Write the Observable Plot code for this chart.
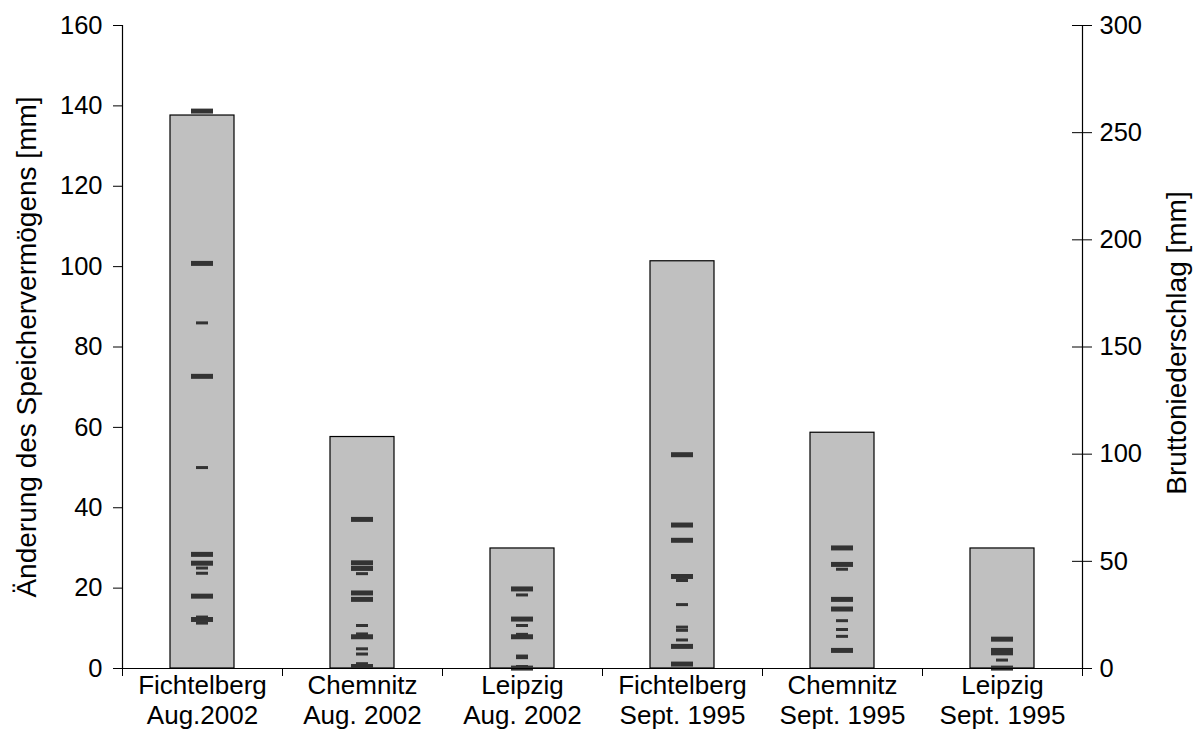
<!DOCTYPE html>
<html>
<head>
<meta charset="utf-8">
<script src="https://cdn.jsdelivr.net/npm/d3@7"></script>
<script src="https://cdn.jsdelivr.net/npm/@observablehq/plot@0.6"></script>
<style>
  body { margin: 0; background: #fff; }
</style>
</head>
<body>
<div id="chart"></div>
<script>
// ---- data ----
const categories = [
  "Fichtelberg\nAug.2002",
  "Chemnitz\nAug. 2002",
  "Leipzig\nAug. 2002",
  "Fichtelberg\nSept. 1995",
  "Chemnitz\nSept. 1995",
  "Leipzig\nSept. 1995"
];
// Bruttoniederschlag [mm] (right axis)
const precipitation = [258, 108, 56, 190, 110, 56];
// Änderung des Speichervermögens [mm] (left axis), wide markers
const storageWide = [
  [138.7, 100.8, 72.7, 28.4, 26.2, 18.0, 12.2],
  [37.1, 26.3, 24.9, 18.8, 17.2, 7.9, 0.5],
  [19.8, 12.3, 7.9, 0.1],
  [53.2, 35.7, 31.9, 22.9, 5.5, 1.1],
  [30.0, 25.9, 17.2, 14.8, 4.5],
  [7.3, 4.5, 3.9, 0.1]
];
// narrow markers
const storageNarrow = [
  [86.0, 50.0, 25.0, 23.7, 12.8, 11.3],
  [23.6, 10.7, 8.6, 4.9, 3.6, 1.2],
  [18.3, 10.7, 8.5, 3.1, 2.7, 0.5],
  [21.9, 15.9, 10.3, 9.5, 7.1],
  [24.7, 11.9, 9.7, 8.0],
  [2.1]
];
const leftTicks = [0, 20, 40, 60, 80, 100, 120, 140, 160];
const rightTicks = [0, 50, 100, 150, 200, 250, 300];
const leftLabel = "Änderung des Speichervermögens [mm]";
const rightLabel = "Bruttoniederschlag [mm]";

// ---- layout ----
const W = 1194, H = 752;
const fLeft = 122, fRight = 1082, fTop = 25, fBottom = 668;
const bandPx = (fRight - fLeft) / categories.length;
const toLeft = v => v * 160 / 300;

const bars = precipitation.map((p, i) => ({ i, p }));
const wide = storageWide.flatMap((vs, i) => vs.map(v => ({ i, v })));
const narrow = storageNarrow.flatMap((vs, i) => vs.map(v => ({ i, v })));
const boundaries = d3.range(categories.length + 1);

const chart = Plot.plot({
  width: W,
  height: H,
  marginLeft: fLeft,
  marginRight: W - fRight,
  marginTop: fTop,
  marginBottom: H - fBottom,
  x: { domain: [0, categories.length], axis: null },
  y: { domain: [0, 160], axis: null },
  style: { fontFamily: "'Liberation Sans', Arial, sans-serif", color: "#000", background: "#fff", overflow: "visible" },
  marks: [
    Plot.rectY(bars, {
      x1: d => d.i + 0.3, x2: d => d.i + 0.7,
      y1: 0, y2: d => toLeft(d.p),
      fill: "#c0c0c0", stroke: "#000", strokeWidth: 1.2
    }),
    Plot.ruleY(wide, {
      y: "v",
      x1: d => d.i + 0.5 - 11 / bandPx, x2: d => d.i + 0.5 + 11 / bandPx,
      stroke: "#333", strokeWidth: 5
    }),
    Plot.ruleY(narrow, {
      y: "v",
      x1: d => d.i + 0.5 - 6 / bandPx, x2: d => d.i + 0.5 + 6 / bandPx,
      stroke: "#333", strokeWidth: 3
    }),
    Plot.ruleX([0, categories.length], { stroke: "#000", strokeWidth: 1.2 }),
    Plot.ruleY([0], { stroke: "#000", strokeWidth: 1.2 }),
    Plot.ruleY(rightTicks.map(toLeft), {
      x1: categories.length - 10 / bandPx, x2: categories.length, stroke: "#000", strokeWidth: 1
    }),
    Plot.axisY({
      anchor: "left", ticks: leftTicks, tickSize: 9, tickPadding: 11,
      fontSize: 25.5, label: null, stroke: "#000", strokeOpacity: 1
    }),
    Plot.axisY(rightTicks.map(toLeft), {
      anchor: "right", tickSize: 9, tickPadding: 8,
      tickFormat: d => Math.round(d * 300 / 160),
      fontSize: 25.5, label: null, stroke: "#000", strokeOpacity: 1
    }),
    Plot.axisX(boundaries, {
      tickSize: 8, tickFormat: () => "", label: null, stroke: "#000", strokeOpacity: 1
    }),
    Plot.text(categories, {
      x: (d, i) => i + 0.5, frameAnchor: "bottom", dy: 4,
      lineAnchor: "top", lineHeight: 1.16, fontSize: 26, fill: "#000"
    }),
    Plot.text([leftLabel], {
      frameAnchor: "left", rotate: -90, dx: 27 - fLeft,
      textAnchor: "middle", lineAnchor: "middle", fontSize: 28, fill: "#000"
    }),
    Plot.text([rightLabel], {
      frameAnchor: "right", rotate: -90, dx: 1177 - fRight, dy: -4,
      textAnchor: "middle", lineAnchor: "middle", fontSize: 28, fill: "#000"
    })
  ]
});
document.getElementById("chart").appendChild(chart);
</script>
</body>
</html>
